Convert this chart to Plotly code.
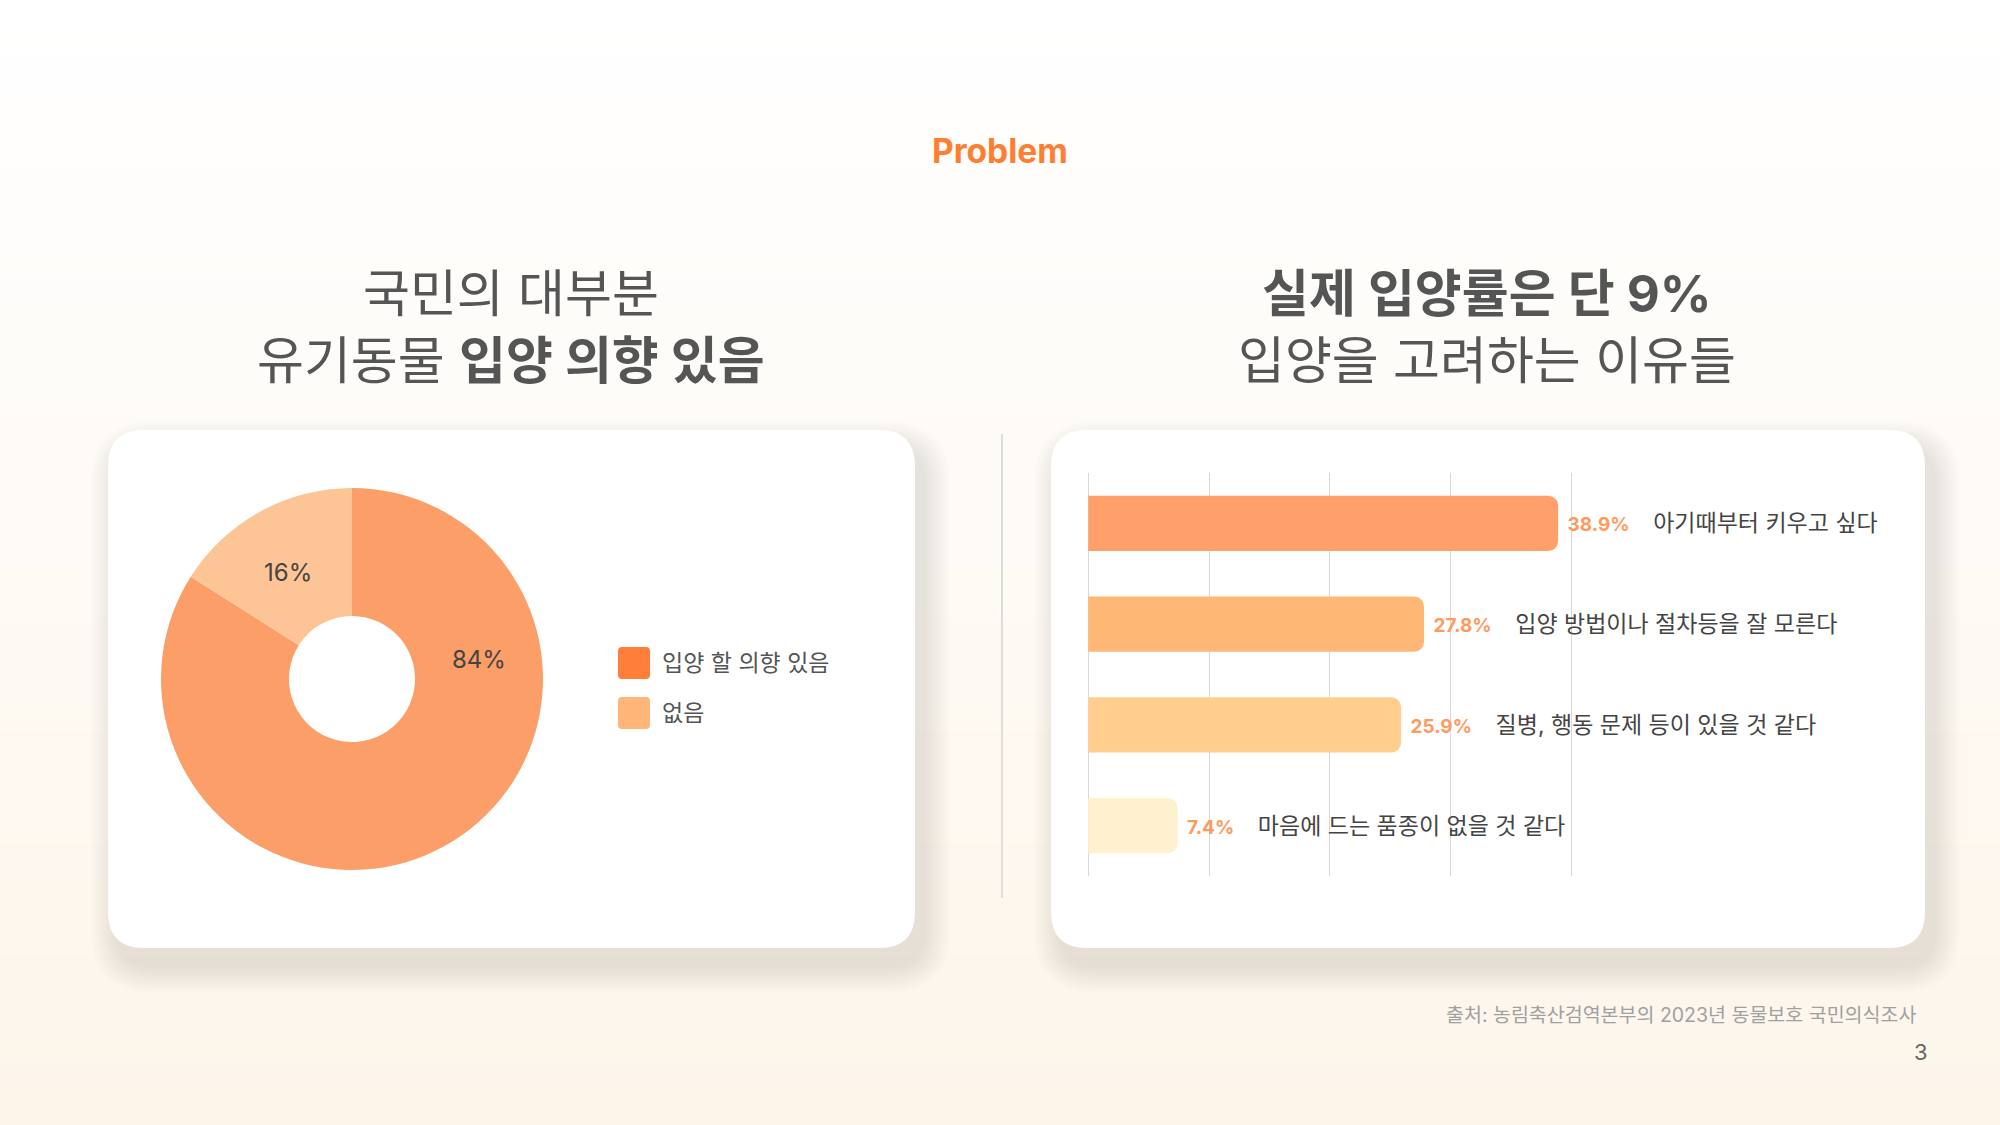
import plotly.graph_objects as go

W, H = 2000, 1125
FONT = "Inter, Noto Sans CJK KR, sans-serif"

# donut data
pie_labels = ["입양 할 의향 있음", "없음"]
pie_values = [84, 16]
pie_colors = ["#FC9E68", "#FDC596"]
legend_colors = ["#FF7F3A", "#FFB677"]

# bar data
reasons = ["아기때부터 키우고 싶다", "입양 방법이나 절차등을 잘 모른다",
           "질병, 행동 문제 등이 있을 것 같다", "마음에 드는 품종이 없을 것 같다"]
reason_pct = [38.9, 27.8, 25.9, 7.4]
bar_colors = ["#FFA06A", "#FFB775", "#FFCE8E", "#FFF1CF"]
grid_ticks = [0, 10, 20, 30, 40]


def fx(x):
    return x / W


def fy(y):
    return 1 - y / H


def rrect(x0, y0, x1, y1, r):
    # rounded rectangle path in paper coords, inputs in pixels
    X0, X1, Y0, Y1 = fx(x0), fx(x1), fy(y0), fy(y1)
    rx, ry = r / W, r / H
    return (f"M {X0+rx},{Y0} L {X1-rx},{Y0} Q {X1},{Y0} {X1},{Y0-ry} "
            f"L {X1},{Y1+ry} Q {X1},{Y1} {X1-rx},{Y1} L {X0+rx},{Y1} "
            f"Q {X0},{Y1} {X0},{Y1+ry} L {X0},{Y0-ry} Q {X0},{Y0} {X0+rx},{Y0} Z")


shapes = []

# background gradient (white -> cream)
n = 60
top, bot = (255, 255, 255), (253, 245, 234)
for i in range(n):
    t = i / (n - 1)
    c = tuple(round(top[k] + (bot[k] - top[k]) * t) for k in range(3))
    shapes.append(dict(type="rect", xref="paper", yref="paper", layer="below",
                       x0=0, x1=1, y0=1 - (i + 1) / n - 0.001, y1=1 - i / n,
                       fillcolor=f"rgb{c}", line_width=0))

# cards with soft shadows
cards = [(108, 430, 915, 948), (1051, 430, 1925, 948)]
for (x0, y0, x1, y1) in cards:
    for i in range(12, 0, -1):
        e = i * 2.2
        shapes.append(dict(type="path", xref="paper", yref="paper", layer="below",
                           path=rrect(x0 - e + 9, y0 - e + 18, x1 + e + 9, y1 + e + 18, 36 + e),
                           fillcolor="rgba(95,90,88,0.012)", line_width=0))
    shapes.append(dict(type="path", xref="paper", yref="paper", layer="below",
                       path=rrect(x0, y0, x1, y1, 36),
                       fillcolor="#FFFFFF", line_width=0))

# divider
shapes.append(dict(type="line", xref="paper", yref="paper", layer="below",
                   x0=fx(1002), x1=fx(1002), y0=fy(434), y1=fy(898),
                   line=dict(color="#DDDDDD", width=2)))

# custom legend swatches
for i, col in enumerate(legend_colors):
    yy = 647 + i * 50
    shapes.append(dict(type="path", xref="paper", yref="paper", layer="above",
                       path=rrect(618, yy, 650, yy + 32, 4),
                       fillcolor=col, line_width=0))

fig = go.Figure()

fig.add_trace(go.Pie(
    labels=pie_labels, values=pie_values, hole=0.33, sort=False,
    direction="clockwise", rotation=0,
    marker=dict(colors=pie_colors, line=dict(width=0)),
    textinfo="none", showlegend=False, hoverinfo="label+percent",
    domain=dict(x=[fx(352 - 191), fx(352 + 191)], y=[fy(679 + 191), fy(679 - 191)]),
))

fig.add_trace(go.Bar(
    x=reason_pct, y=reasons, orientation="h",
    marker=dict(color=bar_colors, line_width=0),
    customdata=reasons,
    texttemplate=("\u00a0<b><span style='color:#FF9A5E;font-size:19px'>%{x}%</span></b>"
                  "\u00a0\u00a0\u00a0\u2009%{customdata}"),
    textposition="outside", cliponaxis=False, constraintext="none",
    textfont=dict(family=FONT, size=23, color="#444444"),
    hoverinfo="skip", showlegend=False,
))

annotations = [
    dict(text="<b>Problem</b>", x=fx(1000), y=fy(151), font=dict(size=33.5, color="#FF7F32")),
    dict(text="국민의 대부분", x=fx(511), y=fy(293), font=dict(size=51, color="#555555")),
    dict(text="유기동물 <b>입양 의향 있음</b>", x=fx(511), y=fy(360), font=dict(size=51, color="#555555")),
    dict(text="<b>실제 입양률은 단 9%</b>", x=fx(1487), y=fy(293), font=dict(size=51, color="#555555")),
    dict(text="입양을 고려하는 이유들", x=fx(1487), y=fy(360), font=dict(size=51, color="#555555")),
    dict(text="출처: 농림축산검역본부의 2023년 동물보호 국민의식조사", x=fx(1918), y=fy(1015),
         xanchor="right", font=dict(size=19.5, color="#A0A0A0")),
    dict(text="3", x=fx(1930), y=fy(1052), xanchor="right", font=dict(size=22, color="#666666")),
]
# donut percentage labels
for v, (lx, ly) in zip(pie_values, [(479, 659), (288, 572)]):
    annotations.append(dict(text=f"{v}%", x=fx(lx), y=fy(ly), font=dict(size=24, color="#444444")))
# legend texts
for i, lab in enumerate(pie_labels):
    annotations.append(dict(text=lab, x=fx(660), y=fy(663 + i * 50), xanchor="left",
                            font=dict(size=23, color="#555555")))

for a in annotations:
    a.update(xref="paper", yref="paper", showarrow=False)
    a.setdefault("xanchor", "center")
    a["yanchor"] = "middle"
    a["font"]["family"] = FONT

fig.update_layout(
    width=W, height=H,
    margin=dict(l=0, r=0, t=0, b=0),
    paper_bgcolor="#FFFFFF", plot_bgcolor="rgba(0,0,0,0)",
    font=dict(family=FONT),
    shapes=shapes, annotations=annotations,
    bargap=0.45, barcornerradius=10,
    xaxis=dict(domain=[fx(1087), fx(1900)], range=[-0.1, 67.2], tickmode="array",
               tickvals=grid_ticks, showticklabels=False, showgrid=True,
               gridcolor="#D8D8D8", gridwidth=1, zeroline=False, showline=False,
               fixedrange=True),
    yaxis=dict(domain=[fy(876), fy(473)], autorange="reversed", showticklabels=False,
               showgrid=False, zeroline=False, showline=False, fixedrange=True),
)

fig.write_html("out.html", config={"displayModeBar": False},
               post_script="document.body.style.margin='0';")
